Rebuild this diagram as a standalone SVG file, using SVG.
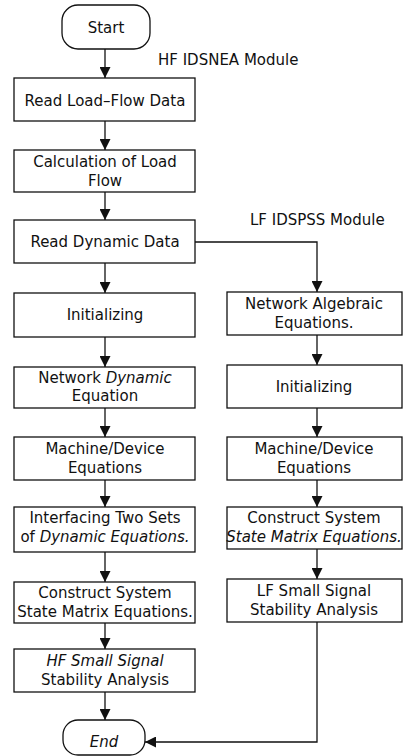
<svg xmlns="http://www.w3.org/2000/svg" width="404" height="756" viewBox="0 0 404 756">
<style>
.box{fill:#fff;stroke:#111;stroke-width:1.3}
.t{font-family:"DejaVu Sans",sans-serif;font-size:15px;fill:#111;text-anchor:middle}
.lbl{font-family:"DejaVu Sans",sans-serif;font-size:15px;fill:#111}
.i{font-style:italic}
.c{fill:none;stroke:#111;stroke-width:1.3}
</style>
<defs>
<marker id="ah" viewBox="0 0 10 10" refX="10" refY="5" markerWidth="11" markerHeight="11" markerUnits="userSpaceOnUse" orient="auto">
<path d="M0,0 L10,5 L0,10 Z" fill="#111"/>
</marker>
</defs>
<rect width="404" height="756" fill="#fff"/>
<g id="connectors">
<path class="c" d="M105,49 V78" marker-end="url(#ah)"/>
<path class="c" d="M105,121 V150" marker-end="url(#ah)"/>
<path class="c" d="M105,192 V220" marker-end="url(#ah)"/>
<path class="c" d="M105,263 V293" marker-end="url(#ah)"/>
<path class="c" d="M105,337 V367" marker-end="url(#ah)"/>
<path class="c" d="M105,408 V437" marker-end="url(#ah)"/>
<path class="c" d="M105,480 V507" marker-end="url(#ah)"/>
<path class="c" d="M105,552 V582" marker-end="url(#ah)"/>
<path class="c" d="M105,623 V649" marker-end="url(#ah)"/>
<path class="c" d="M105,692 V720" marker-end="url(#ah)"/>
<path class="c" d="M195,242 H317 V292" marker-end="url(#ah)"/>
<path class="c" d="M317,335 V365" marker-end="url(#ah)"/>
<path class="c" d="M317,408 V437" marker-end="url(#ah)"/>
<path class="c" d="M317,480 V507" marker-end="url(#ah)"/>
<path class="c" d="M317,549 V579" marker-end="url(#ah)"/>
<path class="c" d="M317,622 V742 H145" marker-end="url(#ah)"/>
</g>
<g id="labels">
<text class="lbl" x="158" y="65">HF IDSNEA Module</text>
<text class="lbl" x="250" y="225">LF IDSPSS Module</text>
</g>
<g id="start"><rect class="box" x="62" y="5" width="88" height="44" rx="16"/><text class="t" x="106" y="33">Start</text></g>
<g id="readLoadFlow"><rect class="box" x="14" y="78" width="181" height="43"/><text class="t" x="105" y="105.5">Read Load–Flow Data</text></g>
<g id="calcLoadFlow"><rect class="box" x="14" y="150" width="181" height="42"/><text class="t" x="105" y="167">Calculation of Load</text><text class="t" x="105" y="185.5">Flow</text></g>
<g id="readDynamic"><rect class="box" x="14" y="220" width="181" height="43"/><text class="t" x="105" y="247">Read Dynamic Data</text></g>
<g id="initHF"><rect class="box" x="14" y="293" width="181" height="44"/><text class="t" x="105" y="320">Initializing</text></g>
<g id="netDynamic"><rect class="box" x="14" y="367" width="181" height="41"/><text class="t" x="105" y="383">Network <tspan class="i">Dynamic</tspan></text><text class="t" x="105" y="401">Equation</text></g>
<g id="machineHF"><rect class="box" x="14" y="437" width="181" height="43"/><text class="t" x="105" y="453.5">Machine/Device</text><text class="t" x="105" y="473">Equations</text></g>
<g id="interfacing"><rect class="box" x="14" y="507" width="181" height="45"/><text class="t" x="105" y="523">Interfacing Two Sets</text><text class="t" x="105" y="542">of <tspan class="i">Dynamic Equations.</tspan></text></g>
<g id="constructHF"><rect class="box" x="14" y="582" width="181" height="41"/><text class="t" x="105" y="597.5">Construct System</text><text class="t" x="105" y="616.5">State Matrix Equations.</text></g>
<g id="hfSSSA"><rect class="box" x="14" y="649" width="181" height="43"/><text class="t i" x="105" y="665.5">HF Small Signal</text><text class="t" x="105" y="685">Stability Analysis</text></g>
<g id="end"><rect class="box" x="63" y="720" width="82" height="35" rx="15"/><text class="t i" x="104" y="747">End</text></g>
<g id="netAlgebraic"><rect class="box" x="227" y="292" width="175" height="43"/><text class="t" x="314" y="308.5">Network Algebraic</text><text class="t" x="314" y="328">Equations.</text></g>
<g id="initLF"><rect class="box" x="227" y="365" width="175" height="43"/><text class="t" x="314" y="392">Initializing</text></g>
<g id="machineLF"><rect class="box" x="227" y="437" width="175" height="43"/><text class="t" x="314" y="453.5">Machine/Device</text><text class="t" x="314" y="472.5">Equations</text></g>
<g id="constructLF"><rect class="box" x="227" y="507" width="175" height="42"/><text class="t" x="314" y="523">Construct System</text><text class="t i" x="314" y="542">State Matrix Equations.</text></g>
<g id="lfSSSA"><rect class="box" x="227" y="579" width="175" height="43"/><text class="t" x="314" y="595.5">LF Small Signal</text><text class="t" x="314" y="615">Stability Analysis</text></g>
</svg>
